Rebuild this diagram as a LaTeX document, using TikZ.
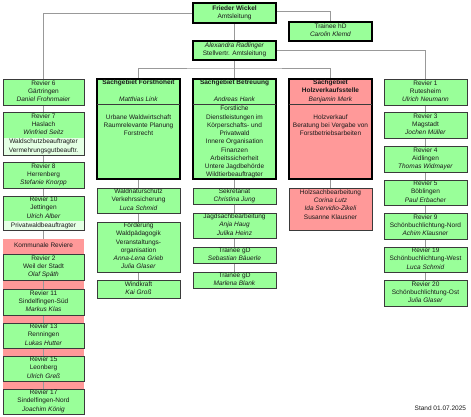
\documentclass[tikz,border=0pt]{standalone}
\usepackage{fontspec}
\setmainfont{Liberation Sans}
\pgfdeclarelayer{bgzero}
\pgfdeclarelayer{bgone}
\pgfsetlayers{bgzero,bgone,main}
\definecolor{gfill}{HTML}{99FF99}
\definecolor{pfill}{HTML}{FF9999}
\definecolor{lfill}{HTML}{E4FFE4}
\definecolor{bord}{HTML}{3A3A3A}
\definecolor{conn}{HTML}{999999}
\definecolor{ink}{HTML}{1A1A1A}
\newcommand\fs{\fontsize{6.5pt}{8.25pt}\selectfont}
\newcommand\fstrut{\rule{0pt}{5.5pt}}
\tikzset{
 boxbase/.style={anchor=north west, inner sep=0pt, outer sep=0pt, align=center, font=\fs, text=ink, text depth=3pt},
 gbox/.style={boxbase, fill=gfill, draw=bord, line width=0.9pt},
 pbox/.style={boxbase, fill=pfill, draw=bord, line width=0.9pt},
 mbox/.style={boxbase, fill=gfill, draw=black, line width=1.5pt},
 sbox/.style={boxbase, fill=gfill, draw=black, line width=2pt},
 txt/.style={inner sep=0pt, outer sep=0pt, align=center, font=\fs, text=ink, text depth=3pt},
 lw/.style={minimum width=81pt},
 cw/.style={minimum width=83pt},
 ht/.style={minimum height=#1pt},
 lightbottom/.style={path picture={\fill[lfill] ([yshift=#1pt]path picture bounding box.south west) rectangle (path picture bounding box.south east);}},
 conline/.style={draw=conn, line width=0.9pt},
 divider/.style={draw=bord, line width=0.9pt},
}
\begin{document}
\begin{tikzpicture}[x=1pt,y=-1pt]
\begin{pgfonlayer}{bgzero}
\fill[white] (0,0) rectangle (471,416);
\end{pgfonlayer}
\useasboundingbox (0,0) rectangle (471,416);

% top
\node[mbox, cw, ht=20, line width=1.8pt] (wick) at (193,3) {\fstrut\textbf{Frieder Wickel}\\Amtsleitung};
\node[mbox, cw, ht=19] (thd) at (289,22) {\fstrut Trainee hD\\\textit{Carolin Klemd}};
\node[mbox, cw, ht=19] (alex) at (193,41) {\fstrut\textit{Alexandra Radlinger}\\Stellvertr. Amtsleitung};

% left column
\node[gbox, lw, ht=26] (r6) at (3,79) {\fstrut Revier 6\\Gärtringen\\\textit{Daniel Frohnmaier}};
\node[gbox, lw, ht=43.5, lightbottom=18] (r7) at (3,112) {\fstrut Revier 7\\Haslach\\\textit{Winfried Seitz}\\[1pt]Waldschutzbeauftragter\\Vermehrungsgutbeauftr.};
\node[gbox, lw, ht=26] (r8) at (3,162) {\fstrut Revier 8\\Herrenberg\\\textit{Stefanie Knorpp}};
\node[gbox, lw, ht=34, lightbottom=9.5] (r10) at (3,196) {\fstrut Revier 10\\Jettingen\\\textit{Ulrich Alber}\\[1pt]Privatwaldbeauftragter};
\node[boxbase, fill=pfill, lw, ht=15] (kom) at (3,239) {\fstrut Kommunale Reviere};
\node[gbox, lw, ht=26] (r2) at (3,254) {\fstrut Revier 2\\Weil der Stadt\\\textit{Olaf Späth}};
\node[gbox, lw, ht=26] (r11) at (3,289) {\fstrut Revier 11\\Sindelfingen-Süd\\\textit{Markus Klas}};
\node[gbox, lw, ht=25] (r13) at (3,323) {\fstrut Revier 13\\Renningen\\\textit{Lukas Hutter}};
\node[gbox, lw, ht=25] (r15) at (3,356) {\fstrut Revier 15\\Leonberg\\\textit{Ulrich Greß}};
\node[gbox, lw, ht=25] (r17) at (3,389) {\fstrut Revier 17\\Sindelfingen-Nord\\\textit{Joachim König}};

% Forsthoheit column
\node[sbox, cw, ht=100] (forst) at (97,79) {};
\node[txt, cw, ht=25, anchor=north west] (forsth) at (97,79) {\fstrut\textbf{Sachgebiet Forsthoheit}\\\strut\\\textit{Matthias Link}};
\draw[divider] (forsth.south west) -- (forsth.south east);
\node[txt, anchor=north] (forstc) at (138.5,105.3) {\fstrut\\Urbane Waldwirtschaft\\Raumrelevante Planung\\Forstrecht};
\node[gbox, cw, ht=25] (wns) at (97,188) {\fstrut Waldnaturschutz\\Verkehrssicherung\\\textit{Luca Schmid}};
\node[gbox, cw, ht=50] (foerd) at (97,222) {\fstrut Förderung\\Waldpädagogik\\Veranstaltungs-\\organisation\\\textit{Anna-Lena Grieb}\\\textit{Julia Glaser}};
\node[gbox, cw, ht=18] (wind) at (97,280) {\fstrut Windkraft\\\textit{Kai Groß}};

% Betreuung column
\node[sbox, cw, ht=100] (betr) at (193,79) {};
\node[txt, cw, ht=25, anchor=north west] (betrh) at (193,79) {\fstrut\textbf{Sachgebiet Betreuung}\\\strut\\\textit{Andreas Hank}};
\draw[divider] (betrh.south west) -- (betrh.south east);
\node[txt, anchor=north] (betrc) at (234.5,105.3) {\fstrut Forstliche\\Dienstleistungen im\\Körperschafts- und\\Privatwald\\Innere Organisation\\Finanzen\\Arbeitssicherheit\\Untere Jagdbehörde\\Wildtierbeauftragter};
\node[gbox, cw, ht=16, text depth=2.5pt] (sek) at (193,188) {\fstrut Sekretariat\\\textit{Christina Jung}};
\node[gbox, cw, ht=25] (jagd) at (193,213) {\fstrut Jagdsachbearbeitung\\\textit{Anja Haug}\\\textit{Julika Heinz}};
\node[gbox, cw, ht=16, text depth=2.5pt] (tgd1) at (193,247) {\fstrut Trainee gD\\\textit{Sebastian Bäuerle}};
\node[gbox, cw, ht=16, text depth=2.5pt] (tgd2) at (193,272) {\fstrut Trainee gD\\\textit{Marlena Blank}};

% Holzverkauf column
\node[sbox, fill=pfill, cw, ht=100] (holz) at (289,79) {};
\node[txt, cw, ht=25, anchor=north west] (holzh) at (289,79) {\fstrut\textbf{Sachgebiet}\\\textbf{Holzverkaufsstelle}\\\textit{Benjamin Merk}};
\draw[divider] (holzh.south west) -- (holzh.south east);
\node[txt, anchor=north] (holzc) at (330.5,105.3) {\fstrut\\Holzverkauf\\Beratung bei Vergabe von\\Forstbetriebsarbeiten};
\node[pbox, cw, ht=42] (hsb) at (289,188) {};
\node[txt, anchor=north] (hsbt) at (330.5,188.9) {\fstrut Holzsachbearbeitung\\\textit{Corina Lutz}\\\textit{Ida Servidio-Zikeli}\\Susanne Klausner};

% right column
\node[gbox, cw, ht=26] (r1) at (384,79) {\fstrut Revier 1\\Rutesheim\\\textit{Ulrich Neumann}};
\node[gbox, cw, ht=26] (r3) at (384,112) {\fstrut Revier 3\\Magstadt\\\textit{Jochen Müller}};
\node[gbox, cw, ht=26] (r4) at (384,146) {\fstrut Revier 4\\Aidlingen\\\textit{Thomas Widmayer}};
\node[gbox, cw, ht=25] (r5) at (384,180) {\fstrut Revier 5\\Böblingen\\\textit{Paul Erbacher}};
\node[gbox, cw, ht=26] (r9) at (384,213) {\fstrut Revier 9\\Schönbuchlichtung-Nord\\\textit{Achim Klausner}};
\node[gbox, cw, ht=25] (r19) at (384,247) {\fstrut Revier 19\\Schönbuchlichtung-West\\\textit{Luca Schmid}};
\node[gbox, cw, ht=26] (r20) at (384,280) {\fstrut Revier 20\\Schönbuchlichtung-Ost\\\textit{Julia Glaser}};

\node[txt, anchor=east] (stand) at (466,409) {\fstrut Stand 01.07.2025};

\begin{pgfonlayer}{bgzero}
\node[fill=pfill, anchor=north west, inner sep=0pt, outer sep=0pt, minimum width=81pt, minimum height=160pt] (kombg) at (3,254) {};
\end{pgfonlayer}

\begin{pgfonlayer}{bgone}
\draw[conline] (wick.west) -| (r6.north);
\draw[conline] (r6.south) -- (r17.north);
\draw[conline] ([yshift=2pt]wick.east) -| (thd.north);
\draw[conline] (wick.south) -- (alex.north);
\draw[conline] (alex.east) -| (r1.north);
\draw[conline] (r1.south) -- (r20.north);
\draw[conline] (alex.south) -- (betr.north);
\coordinate (bar) at (234.5,68);
\draw[conline] (forst.north) |- (bar) -| (holz.north);
\draw[conline] (forst.south) -- (wind.north);
\draw[conline] (betr.south) -- (tgd2.north);
\draw[conline] (holz.south) -- (hsb.north);
\end{pgfonlayer}
\end{tikzpicture}
\end{document}
